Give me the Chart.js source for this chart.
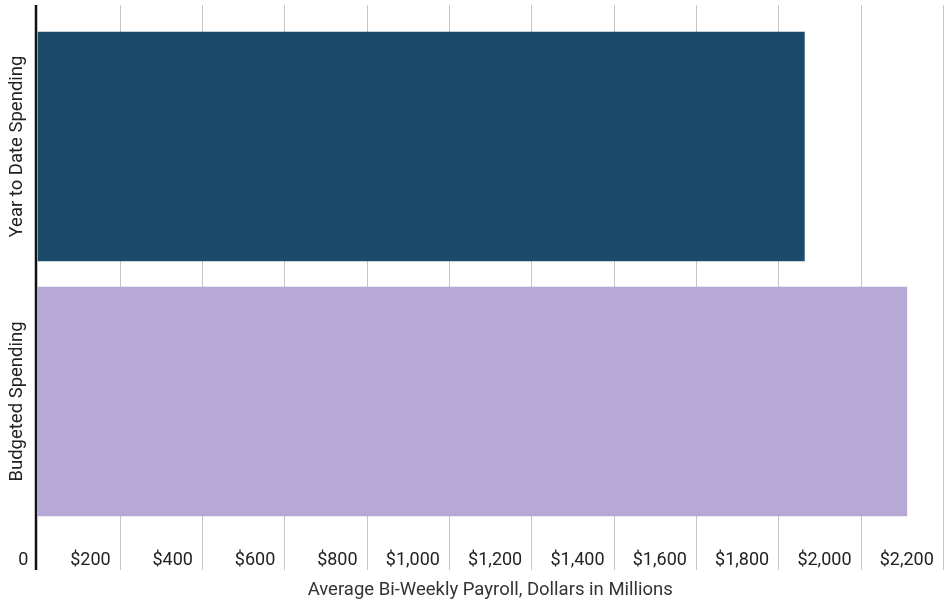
<!DOCTYPE html>
<html>
<head>
<meta charset="utf-8">
<script src="https://cdn.jsdelivr.net/npm/chart.js@4/dist/chart.umd.min.js"></script>
<style>
  html, body { margin: 0; padding: 0; background: #fff; }
  #wrap { width: 945px; height: 603px; position: relative; }
</style>
</head>
<body>
<div id="wrap"><canvas id="payrollChart"></canvas></div>
<script>
const categories = ['Year to Date Spending', 'Budgeted Spending']
const spending = [1864, 2113]
const barColors = ['#1c4a6b', '#b7a9d5']
const xTickValues = [0, 200, 400, 600, 800, 1000, 1200, 1400, 1600, 1800, 2000, 2200]
const xTickLabels = ['0', '$200', '$400', '$600', '$800', '$1,000', '$1,200', '$1,400', '$1,600', '$1,800', '$2,000', '$2,200']
const axisTitle = 'Average Bi-Weekly Payroll, Dollars in Millions'

const FONT = 'Roboto, "Noto Sans", sans-serif'

// vertical grid lines run a bit past the plot, plus the black zero line
const gridAndAxis = {
  id: 'gridAndAxis',
  beforeDatasetsDraw(chart) {
    const ctx = chart.ctx
    const x = chart.scales.x
    ctx.save()
    ctx.strokeStyle = '#c6c6c6'
    ctx.lineWidth = 1
    xTickValues.forEach(v => {
      if (v === 0) return
      const px = Math.round(x.getPixelForValue(v)) + 0.5
      ctx.beginPath()
      ctx.moveTo(px, 5)
      ctx.lineTo(px, 570)
      ctx.stroke()
    })
    ctx.restore()
  },
  afterDraw(chart) {
    const ctx = chart.ctx
    const x = chart.scales.x
    const y = chart.scales.y
    ctx.save()
    ctx.strokeStyle = '#111'
    ctx.lineWidth = 2.5
    const px = x.getPixelForValue(0) - 1.5
    ctx.beginPath()
    ctx.moveTo(px, 5)
    ctx.lineTo(px, 570)
    ctx.stroke()

    // rotated category labels
    ctx.fillStyle = '#222'
    ctx.font = '18.5px ' + FONT
    ctx.textAlign = 'center'
    ctx.textBaseline = 'middle'
    categories.forEach((label, i) => {
      ctx.save()
      ctx.translate(17, y.getPixelForValue(i))
      ctx.rotate(-Math.PI / 2)
      ctx.fillText(label, 0, 0)
      ctx.restore()
    })
    ctx.restore()
  }
}

const ctx = document.getElementById('payrollChart').getContext('2d')
const payrollChart = new Chart(ctx, {
  type: 'bar',
  data: {
    labels: categories,
    datasets: [{
      data: spending,
      backgroundColor: barColors,
      borderWidth: 0,
      barPercentage: 0.9,
      categoryPercentage: 1
    }]
  },
  options: {
    indexAxis: 'y',
    responsive: true,
    maintainAspectRatio: false,
    animation: false,
    layout: { padding: { top: 19, right: 2, bottom: 2, left: 0 } },
    plugins: {
      legend: { display: false },
      tooltip: { enabled: false }
    },
    scales: {
      x: {
        min: 0,
        max: 2200,
        afterBuildTicks(scale) {
          scale.ticks = xTickValues.map(v => ({ value: v }))
        },
        afterFit(scale) {
          scale.height = 72
          scale.paddingLeft = 0
          scale.paddingRight = 0
        },
        grid: { display: false, drawTicks: false },
        border: { display: false },
        ticks: {
          align: 'end',
          padding: 21,
          color: '#222',
          font: { family: FONT, size: 18 },
          callback: (v, i) => xTickLabels[i] + '\u2002'
        },
        title: {
          display: true,
          text: axisTitle,
          color: '#333',
          font: { family: FONT, size: 18.5 },
          padding: { top: 8, bottom: 0 }
        }
      },
      y: {
        grid: { display: false },
        border: { display: false },
        ticks: { display: false },
        afterFit(scale) { scale.width = 37.5 }
      }
    }
  },
  plugins: [gridAndAxis]
})
</script>
</body>
</html>
